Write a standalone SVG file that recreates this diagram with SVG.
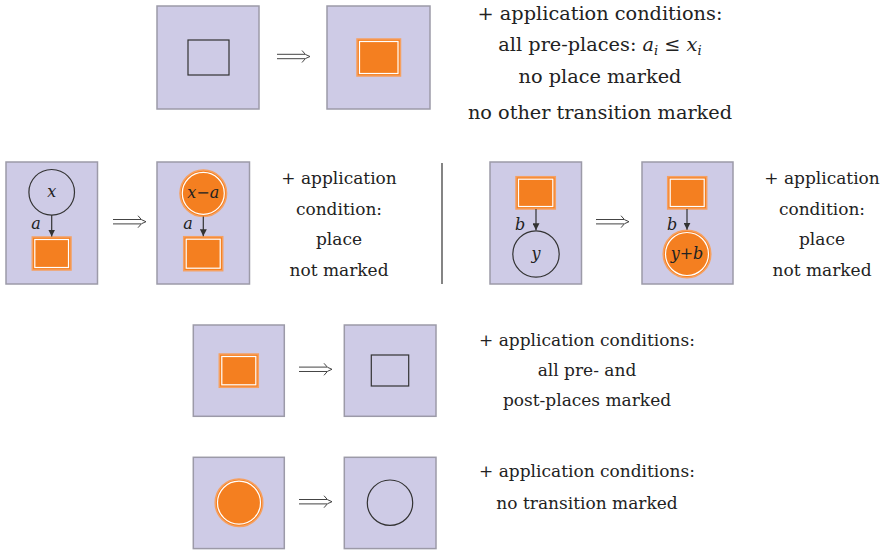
<svg xmlns="http://www.w3.org/2000/svg" width="886" height="550" viewBox="0 0 886 550">
<defs>
<style>
.box{fill:#cecbe6;stroke:#9c9aa8;stroke-width:1.5}
.place{fill:none;stroke:#333;stroke-width:1.2}
.mark{fill:#f47f20;stroke:#f6a060;stroke-width:1.5}
.inner{fill:none;stroke:#fff;stroke-width:1.2}
.dbl{fill:none;stroke:#444;stroke-width:1}
.arc{stroke:#333;stroke-width:1.2;fill:none;marker-end:url(#ah)}
.t{font-family:'DejaVu Serif','Liberation Serif',serif;font-size:17px;fill:#222;text-anchor:middle}
.big{font-size:19.3px}
.m{font-family:'DejaVu Serif','Liberation Serif',serif;font-style:italic;font-size:16px;fill:#222;text-anchor:middle}
</style>
<marker id="ah" viewBox="0 0 10 10" refX="10" refY="5" markerWidth="7" markerHeight="7" markerUnits="userSpaceOnUse" orient="auto">
<path d="M0,0 L10,5 L0,10 Z" fill="#333"/>
</marker>
<g id="impl">
<path class="dbl" d="M0,-2.2 H28 M0,2.2 H28 M25,-6 Q28,-1 33,0 Q28,1 25,6"/>
</g>
</defs>

<g id="rule1-left">
<rect class="box" x="157" y="6" width="102" height="103"/>
<rect class="place" x="188" y="40" width="41" height="35"/>
</g>
<g id="rule1-right">
<rect class="box" x="327" y="6" width="103" height="103"/>
<rect class="mark" x="357" y="39" width="43.5" height="37"/>
<rect class="inner" x="359.5" y="41.5" width="38.5" height="32"/>
</g>
<g id="rule1-text">
<text class="t big" x="600" y="20">+ application conditions:</text>
<text class="t big" x="600" y="51">all pre-places: <tspan font-style="italic">a</tspan><tspan font-style="italic" font-size="13" dy="4">i</tspan><tspan dy="-4"> ≤ </tspan><tspan font-style="italic">x</tspan><tspan font-style="italic" font-size="13" dy="4">i</tspan></text>
<text class="t big" x="600" y="83">no place marked</text>
<text class="t big" x="600" y="119">no other transition marked</text>
</g>

<g id="rule2-left">
<rect class="box" x="6" y="162" width="91.5" height="122"/>
<circle class="place" cx="51.7" cy="192.3" r="22.8"/>
<text class="m" x="51.7" y="197">x</text>
<rect class="mark" x="32.3" y="237" width="38.7" height="33"/>
<rect class="inner" x="34.8" y="239.5" width="33.7" height="28"/>
<text class="m" x="36" y="229">a</text>
</g>
<g id="rule2-right">
<rect class="box" x="157" y="162" width="92.5" height="122"/>
<circle class="mark" cx="203.3" cy="193.3" r="23.3"/>
<circle class="inner" cx="203.3" cy="193.3" r="21"/>
<text class="m" x="203.3" y="198">x−a</text>
<rect class="mark" x="183.7" y="236.7" width="39" height="34"/>
<rect class="inner" x="186.2" y="239.2" width="34" height="29"/>
<text class="m" x="188" y="229">a</text>
</g>
<g id="rule2-text">
<text class="t" x="339" y="184">+ application</text>
<text class="t" x="339" y="215">condition:</text>
<text class="t" x="339" y="245">place</text>
<text class="t" x="339" y="276">not marked</text>
</g>

<g id="divider">
<line x1="442" y1="163" x2="442" y2="284" stroke="#333" stroke-width="1.2"/>
</g>

<g id="rule3-left">
<rect class="box" x="490" y="162" width="91.5" height="122"/>
<rect class="mark" x="516" y="176.7" width="39.3" height="32.3"/>
<rect class="inner" x="518.5" y="179.2" width="34.3" height="27.3"/>
<circle class="place" cx="536" cy="254" r="23.2"/>
<text class="m" x="536" y="259">y</text>
<text class="m" x="520" y="230">b</text>
</g>
<g id="rule3-right">
<rect class="box" x="642" y="162" width="91" height="122"/>
<rect class="mark" x="667.7" y="176.7" width="39" height="32.3"/>
<rect class="inner" x="670.2" y="179.2" width="34" height="27.3"/>
<circle class="mark" cx="687" cy="254" r="23.8"/>
<circle class="inner" cx="687" cy="254" r="21.5"/>
<text class="m" x="687" y="259">y+b</text>
<text class="m" x="672" y="230">b</text>
</g>
<g id="rule3-text">
<text class="t" x="822" y="184">+ application</text>
<text class="t" x="822" y="215">condition:</text>
<text class="t" x="822" y="245">place</text>
<text class="t" x="822" y="276">not marked</text>
</g>

<g id="rule4-left">
<rect class="box" x="193.3" y="325" width="91" height="91.3"/>
<rect class="mark" x="219.3" y="354" width="39" height="33.3"/>
<rect class="inner" x="221.8" y="356.5" width="34" height="28.3"/>
</g>
<g id="rule4-right">
<rect class="box" x="344.3" y="325" width="91.7" height="91.3"/>
<rect class="place" x="371.3" y="355" width="37.4" height="31"/>
</g>
<g id="rule4-text">
<text class="t" x="587" y="346">+ application conditions:</text>
<text class="t" x="587" y="376">all pre- and</text>
<text class="t" x="587" y="406">post-places marked</text>
</g>

<g id="rule5-left">
<rect class="box" x="193.3" y="457.3" width="91" height="91.3"/>
<circle class="mark" cx="239" cy="502.7" r="23.8"/>
<circle class="inner" cx="239" cy="502.7" r="21.5"/>
</g>
<g id="rule5-right">
<rect class="box" x="344.3" y="457.3" width="91.7" height="91.3"/>
<circle class="place" cx="390" cy="502.7" r="22.7"/>
</g>
<g id="rule5-text">
<text class="t" x="587" y="477">+ application conditions:</text>
<text class="t" x="587" y="509">no transition marked</text>
</g>

<g id="connectors">
<line class="arc" x1="51.7" y1="215.1" x2="51.7" y2="236.5"/>
<line class="arc" x1="203.3" y1="216.6" x2="203.3" y2="236.2"/>
<line class="arc" x1="536" y1="209" x2="536" y2="230.3"/>
<line class="arc" x1="687" y1="209" x2="687" y2="229.7"/>
<use href="#impl" x="277" y="56.5"/>
<use href="#impl" x="113" y="221.7"/>
<use href="#impl" x="596" y="221.7"/>
<use href="#impl" x="299" y="369.3"/>
<use href="#impl" x="299" y="501.7"/>
</g>
</svg>
